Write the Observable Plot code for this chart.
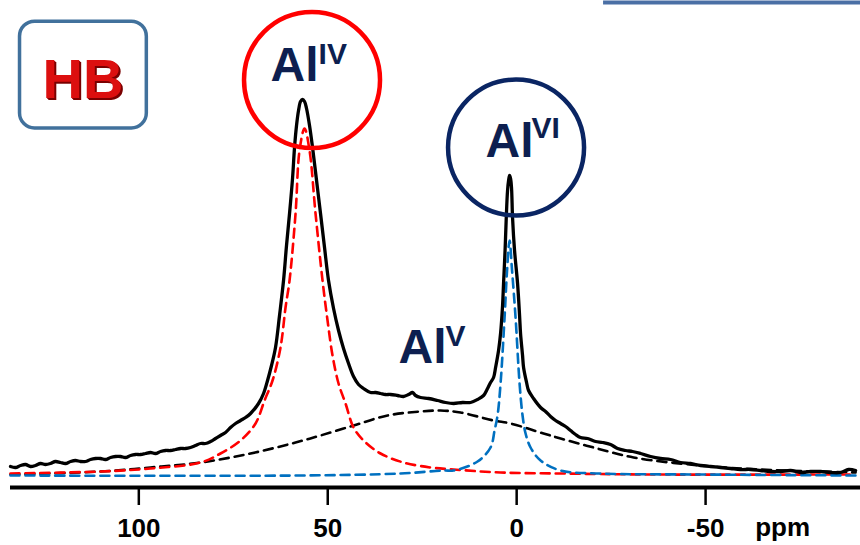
<!DOCTYPE html>
<html><head><meta charset="utf-8">
<script src="https://cdn.jsdelivr.net/npm/d3@7"></script>
<script src="https://cdn.jsdelivr.net/npm/@observablehq/plot@0.6"></script>
<style>
body{margin:0;background:#fff;} #chart svg{display:block}
#chart [fill="#dc0f0f"], #chart [fill="#dc0f0f"] text{ text-shadow: 2px 2px 0 #7a0000, 1px 1px 0 #a00000; }
</style>
</head><body><div id="chart"></div>
<script>
// ---- measured spectrum (27Al MAS NMR, ppm vs intensity, arbitrary units) ----
const specPpm = [133.96,132.64,131.31,129.99,128.67,127.34,126.02,124.70,123.37,122.05,120.73,119.40,118.08,116.76,115.43,114.11,112.79,111.46,110.14,108.81,107.49,106.17,104.84,103.52,102.20,100.87,99.55,98.23,96.90,95.58,94.26,92.93,91.61,90.28,88.96,87.64,86.32,84.99,83.67,82.34,81.02,79.70,78.38,77.05,75.73,74.40,73.08,71.76,70.43,68.32,66.99,65.93,64.88,63.82,62.76,61.70,60.91,60.11,59.32,58.79,58.26,57.73,57.20,56.67,56.14,55.61,54.82,54.02,52.96,51.91,50.85,49.79,48.46,47.14,45.82,44.49,43.17,41.85,40.52,38.67,37.35,36.02,34.70,33.38,31.52,29.94,28.61,27.55,26.76,25.44,23.32,20.94,18.82,16.70,14.32,12.20,10.35,8.76,7.70,6.91,6.11,5.58,4.79,4.26,3.73,3.47,3.07,2.75,2.41,2.14,1.88,1.61,1.35,1.09,0.56,-0.24,-0.77,-1.03,-1.56,-1.83,-2.62,-3.15,-4.47,-6.33,-7.65,-8.97,-10.30,-11.62,-12.94,-14.27,-15.59,-16.91,-18.77,-20.88,-22.74,-24.85,-26.71,-28.82,-30.68,-32.80,-35.44,-38.09,-40.74,-43.38,-46.03,-48.68,-51.32,-53.97,-56.62,-59.26,-61.91,-64.56,-67.21,-69.85,-72.50,-75.15,-77.79,-80.44,-83.09,-85.73,-87.85,-89.70];
const specInt = [9,8,10,11,9,10,12,11,12,14,13,12,14,15,14,14,16,17,17,16,18,19,19,18,20,21,21,22,23,22,24,25,25,26,27,27,28,30,32,32,34,37,40,43,48,52,55,58,62,72,82,95,110,128,160,195,230,262,297,328,350,365,374,376,374,367,350,328,295,262,228,195,167,145,127,112,99,91,87,83,83,82,81,81,80,79,81,83,80,78,77,75,73,72,73,73,76,80,87,93,98,108,125,142,170,192,225,258,285,295,300,297,287,258,225,192,160,142,120,108,93,85,77,68,64,59,55,52,49,45,41,38,37,34,33,31,27,25,24,22,19,17,16,13,12,10,9,8,7,6,6,5,4,4,5,3,4,4,3,3,6,5];

// ---- fitted components ----
const alIVPpm = [133.96,110.14,96.90,83.67,78.38,73.08,69.11,66.73,64.61,62.50,61.17,60.11,58.52,57.47,56.14,54.82,53.23,51.38,50.05,48.73,47.14,45.29,43.17,40.52,36.02,29.94,22.79,16.70,4.26,-11.62,-35.44,-89.70];
const alIVInt = [2,4,7,13,22,35,52,75,95,128,168,195,262,325,347,325,262,195,155,120,92,72,48,35,22,13,8,6,3,2,1,1];

const alVPpm = [133.96,110.14,96.90,83.67,70.43,58.52,51.91,43.17,34.17,25.44,20.14,14.85,6.11,1.61,-7.12,-11.62,-20.35,-30.94,-48.68,-64.56,-89.70];
const alVInt = [1,4,8,13,22,33,40,50,60,64,65,63,55,52,42,37,28,18,10,6,3];

const alVIPpm = [133.96,57.20,30.73,19.35,16.70,10.35,6.91,5.85,5.06,4.26,3.20,2.54,1.88,1.22,0.29,-0.77,-1.56,-2.36,-3.68,-6.33,-11.62,-22.21,-48.68,-89.70];
const alVIInt = [0,0,2,5,5,14,28,45,60,92,158,205,235,205,158,92,60,42,28,15,5,2,1,0];

// ---- axis ----
const xTicks = [100, 50, 0, -50];
const xDomain = [133.96, -91.0];
const yDomain = [-12, 475];

// ---- annotations (ppm, intensity) ----
const alLabels   = [{x:65.14, y:395, t:"Al"}, {x:8.23, y:319, t:"Al"}, {x:31.26, y:113, t:"Al"}];
const supLabels  = [{x:52.43, y:412, t:"IV"}, {x:-3.94, y:338, t:"VI"}, {x:18.82, y:130, t:"V"}];
const circles    = [{x:54.16, y:395.5, c:"#ff0000"}, {x:0.16, y:328, c:"#0a2563"}];
const hbBox      = [{x1:131.44, x2:97.88, y1:347, y2:453.8}];
const hbLabel    = [{x:114.77, y:378, t:"HB"}];
const ppmLabel   = [{x:-70.4, y:-60, t:"ppm"}];
const topRule    = [{x1:-23.0, x2:-91.0, y:473}];

const rows = (xs, ys) => xs.map((x, i) => ({ppm: x, v: ys[i]}));
const navy = "#0d1f50";
const dash = "9,6";

const chart = Plot.plot({
  width: 860, height: 545,
  marginLeft: 10, marginRight: 0, marginTop: 0, marginBottom: 58,
  style: {background: "white", fontFamily: "'Liberation Sans', Arial, sans-serif", fontWeight: "bold", color: "black"},
  x: {domain: xDomain, label: null},
  y: {domain: yDomain, axis: null},
  marks: [
    Plot.ruleY([yDomain[0]], {stroke: "black", strokeWidth: 4}),
    Plot.axisX({ticks: xTicks, tickSize: 18, tickPadding: 13, tickFormat: d => String(d), fontSize: 26, strokeWidth: 2.5, label: null}),
    Plot.text(ppmLabel, {x: "x", y: "y", text: "t", fontSize: 26, lineAnchor: "bottom", fill: "black"}),
    Plot.line(rows(alVPpm, alVInt), {x: "ppm", y: "v", stroke: "black", strokeWidth: 2.6, strokeDasharray: dash, curve: "catmull-rom"}),
    Plot.line(rows(alIVPpm, alIVInt), {x: "ppm", y: "v", stroke: "#ff0000", strokeWidth: 2.6, strokeDasharray: dash, curve: "catmull-rom"}),
    Plot.line(rows(alVIPpm, alVIInt), {x: "ppm", y: "v", stroke: "#0070c0", strokeWidth: 2.6, strokeDasharray: dash, curve: "catmull-rom"}),
    Plot.line(rows(specPpm, specInt), {x: "ppm", y: "v", stroke: "black", strokeWidth: 3.3, curve: "catmull-rom"}),
    Plot.dot(circles, {x: "x", y: "y", r: 68, stroke: "c", strokeWidth: 4.5, fill: "none"}),
    Plot.text(alLabels, {x: "x", y: "y", text: "t", fontSize: 48, textAnchor: "start", lineAnchor: "bottom", fill: navy}),
    Plot.text(supLabels, {x: "x", y: "y", text: "t", fontSize: 30, textAnchor: "start", lineAnchor: "bottom", fill: navy}),
    Plot.rect(hbBox, {x1: "x1", x2: "x2", y1: "y1", y2: "y2", rx: 15, stroke: "#41719c", strokeWidth: 3.5, fill: "none"}),
    Plot.text(hbLabel, {x: "x", y: "y", text: "t", fontSize: 56, lineAnchor: "bottom", fill: "#dc0f0f"}),
    Plot.ruleY(topRule, {x1: "x1", x2: "x2", y: "y", stroke: "#4a6fa5", strokeWidth: 4})
  ]
});
document.getElementById("chart").appendChild(chart);
</script>
</body></html>
